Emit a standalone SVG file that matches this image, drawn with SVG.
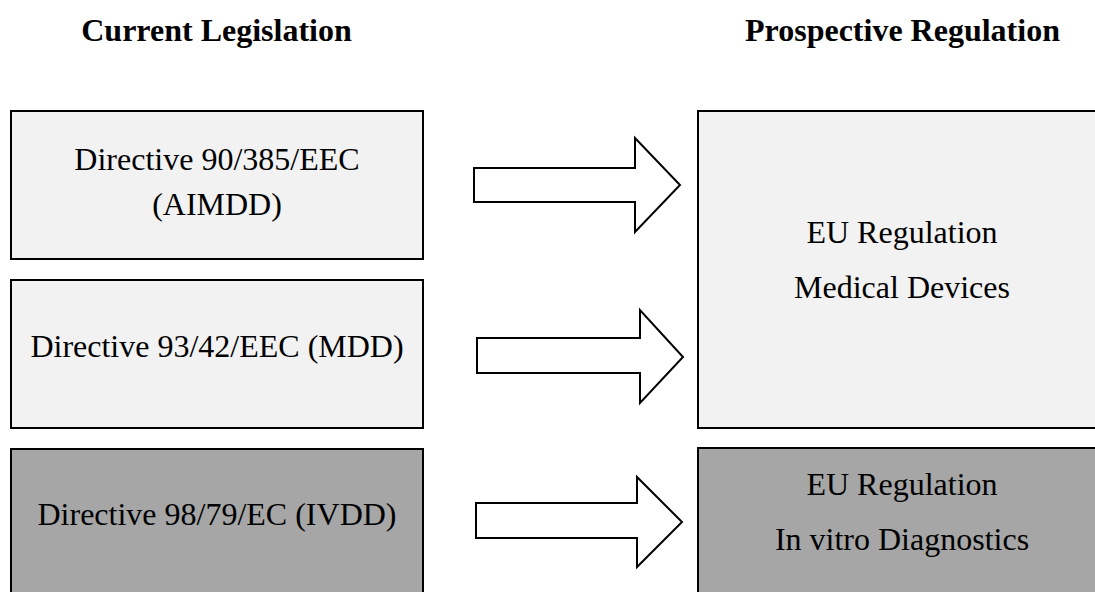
<svg xmlns="http://www.w3.org/2000/svg" width="1095" height="592" viewBox="0 0 1095 592">
<style>
.t{font-family:"Liberation Serif","Times New Roman",serif;font-size:32px;fill:#000;text-anchor:middle}
.h{font-weight:bold}
.box{stroke:#000;stroke-width:2}
.light{fill:#f2f2f2}
.dark{fill:#a6a6a6}
.arrow{fill:#fff;stroke:#000;stroke-width:2;stroke-linejoin:miter}
</style>
<rect width="1095" height="592" fill="#fff"/>
<text class="t h" x="216.5" y="41">Current Legislation</text>
<text class="t h" x="902.5" y="41">Prospective Regulation</text>
<g id="aimdd">
<rect class="box light" x="11" y="111" width="412" height="148"/>
<text class="t" x="217" y="170">Directive 90/385/EEC</text>
<text class="t" x="217" y="215">(AIMDD)</text>
</g>
<g id="mdd">
<rect class="box light" x="11" y="280" width="412" height="148"/>
<text class="t" x="217" y="357">Directive 93/42/EEC (MDD)</text>
</g>
<g id="ivdd">
<rect class="box dark" x="11" y="449" width="412" height="160"/>
<text class="t" x="217" y="525">Directive 98/79/EC (IVDD)</text>
</g>
<g id="eu-md">
<rect class="box light" x="698" y="111" width="408" height="317"/>
<text class="t" x="902" y="243">EU Regulation</text>
<text class="t" x="902" y="298">Medical Devices</text>
</g>
<g id="eu-ivd">
<rect class="box dark" x="698" y="448" width="408" height="160"/>
<text class="t" x="902" y="495">EU Regulation</text>
<text class="t" x="902" y="550">In vitro Diagnostics</text>
</g>
<g id="connectors">
<polygon class="arrow" points="474,168 635,168 635,138 680,185 635,232 635,202 474,202"/>
<polygon class="arrow" points="477,338 640,338 640,310 683,357 640,403 640,373 477,373"/>
<polygon class="arrow" points="476,503 637,503 637,477 682,522 637,567 637,538 476,538"/>
</g>
</svg>
